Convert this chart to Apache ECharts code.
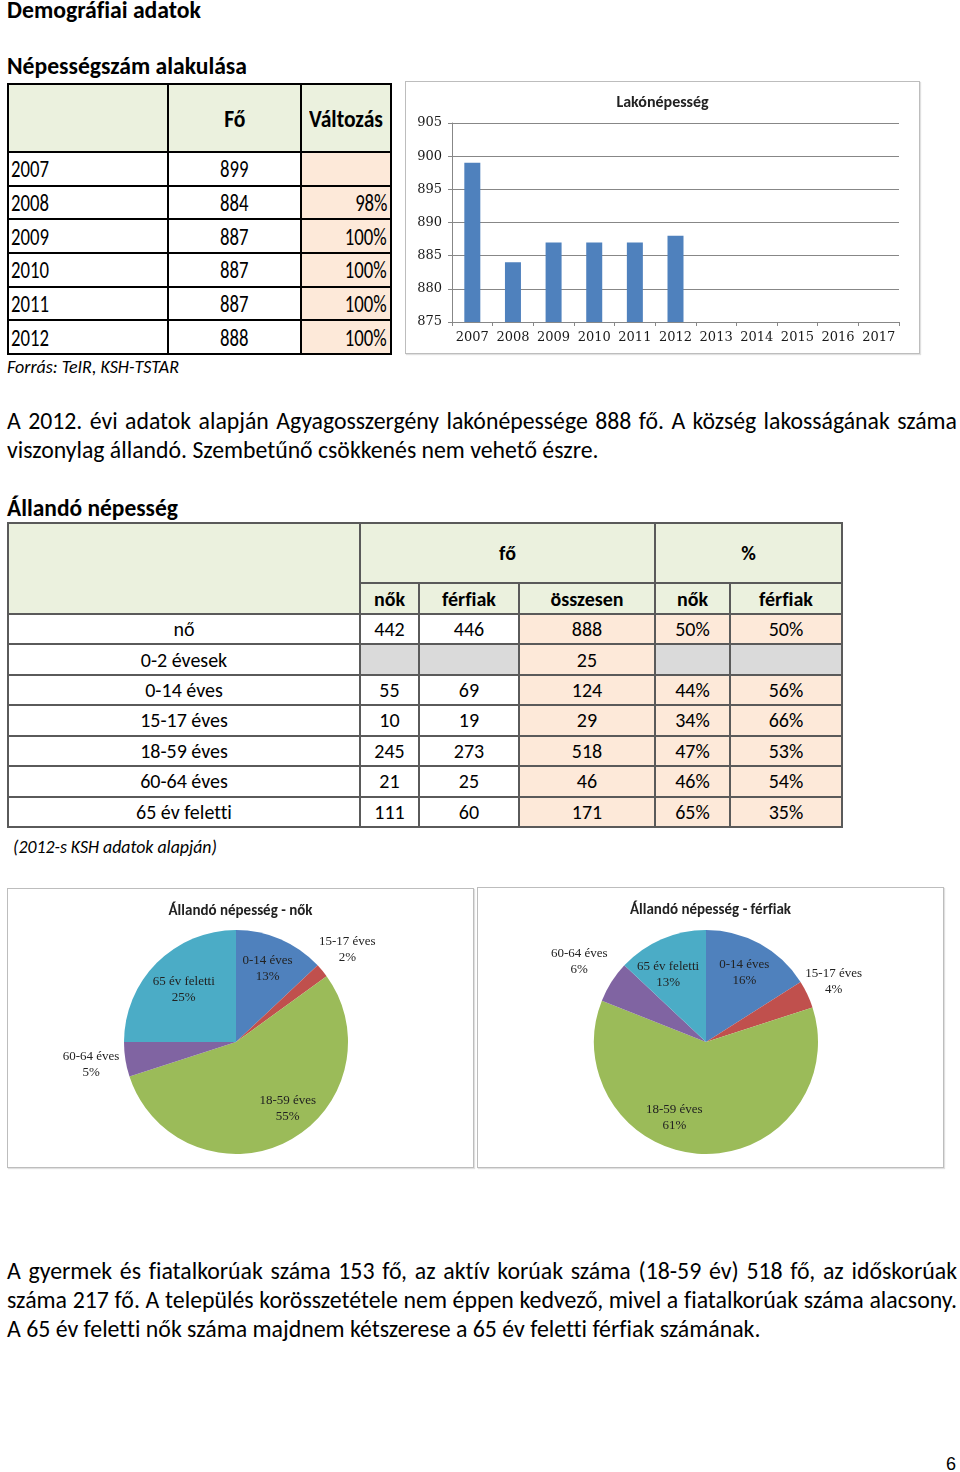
<!DOCTYPE html>
<html><head><meta charset="utf-8">
<script src="https://cdn.jsdelivr.net/npm/echarts@6/dist/echarts.min.js"></script>
<style>
html,body{margin:0;padding:0}
body{width:960px;height:1472px;position:relative;background:#fff;font-family:Carlito,Lato,"Open Sans",sans-serif;color:#000;overflow:hidden;font-variant-ligatures:none;font-feature-settings:"liga" 0,"clig" 0}
.a{position:absolute;white-space:nowrap}
.h{font-weight:bold;line-height:28px;font-size:20px}
.it{font-style:italic;line-height:20px;font-size:16px}
.ln{line-height:29px;font-size:20px}
.jl{width:950px;text-align:justify;text-align-last:justify;white-space:normal}
.grid{position:absolute;display:grid;box-sizing:border-box}
.grid>div{display:flex;align-items:center;overflow:hidden;white-space:nowrap}
#t1{left:7px;top:83px;width:385px;height:272px;background:#000;padding:2px;gap:2px;
 grid-template-columns:158px 131px 88px;grid-template-rows:66px repeat(6,1fr)}
#t1>div{font-size:24px}
#t1 span{display:inline-block;transform:scaleX(0.78)}
#t1 span.hd{font-weight:bold;transform:scaleX(0.9)}
#t2{left:7px;top:522px;width:836px;height:306px;background:#5a5a5a;padding:2px;gap:2px;
 grid-template-columns:350px 57px 98px 134px 73px 1fr;grid-template-rows:58px 29px repeat(7,1fr)}
#t2>div{font-size:20px;justify-content:center}
.g{background:#EBF1DE}.p{background:#FDE9D9}.w{background:#fff}.s{background:#DADADA}
.box{position:absolute;box-sizing:border-box;border:1px solid #bdbdbd;box-shadow:1px 1px 1px rgba(0,0,0,0.12);background:#fff}
</style></head><body>

<div id="h1" class="a h" style="left:7px;top:-4px">Demográfiai adatok</div>
<div id="h2" class="a h" style="left:7px;top:52px">Népességszám alakulása</div>
<div id="t1" class="grid"></div>
<div id="src1" class="a it" style="left:7px;top:357px">Forrás: TeIR, KSH-TSTAR</div>

<div id="barBox" class="box" style="left:405px;top:81px;width:515px;height:273px"></div>

<div id="p1a" class="a ln jl" style="left:7px;top:406px">A 2012. évi adatok alapján Agyagosszergény lakónépessége 888 fő. A község lakosságának száma</div>
<div id="p1b" class="a ln" style="left:7px;top:435px">viszonylag állandó. Szembetűnő csökkenés nem vehető észre.</div>

<div id="h3" class="a h" style="left:7px;top:494px">Állandó népesség</div>
<div id="t2" class="grid"></div>
<div id="src2" class="a it" style="left:13px;top:837px">(2012-s KSH adatok alapján)</div>

<div id="pieL" class="box" style="left:7px;top:888px;width:467px;height:280px"></div>
<div id="pieR" class="box" style="left:477px;top:887px;width:467px;height:281px"></div>

<div id="p2a" class="a ln jl" style="left:7px;top:1256px">A gyermek és fiatalkorúak száma 153 fő, az aktív korúak száma (18-59 év) 518 fő, az időskorúak</div>
<div id="p2b" class="a ln jl" style="left:7px;top:1285px">száma 217 fő. A település korösszetétele nem éppen kedvező, mivel a fiatalkorúak száma alacsony.</div>
<div id="p2c" class="a ln" style="left:7px;top:1314px">A 65 év feletti nők száma majdnem kétszerese a 65 év feletti férfiak számának.</div>

<div class="a" style="left:946px;top:1453px;font-family:'Liberation Sans',Arial,sans-serif;font-size:18px;line-height:22px">6</div>

<script>
// ---------- data ----------
const popYears = ['2007','2008','2009','2010','2011','2012'];
const popValues = [899, 884, 887, 887, 887, 888];
const popChange = ['', '98%', '100%', '100%', '100%', '100%'];

const barCategories = ['2007','2008','2009','2010','2011','2012','2013','2014','2015','2016','2017'];
const barValues = [899, 884, 887, 887, 887, 888, null, null, null, null, null];
const yMin = 875, yMax = 905, yStep = 5;

const ageGroups = ['nő','0-2 évesek','0-14 éves','15-17 éves','18-59 éves','60-64 éves','65 év feletti'];
const womenCount = [442, null, 55, 10, 245, 21, 111];
const menCount   = [446, null, 69, 19, 273, 25, 60];
const totalCount = [888, 25, 124, 29, 518, 46, 171];
const womenPct = ['50%', '', '44%', '34%', '47%', '46%', '65%'];
const menPct   = ['50%', '', '56%', '66%', '53%', '54%', '35%'];

const pieCategories = ['0-14 éves','15-17 éves','18-59 éves','60-64 éves','65 év feletti'];
const womenPie = [13, 2, 55, 5, 25];
const menPie   = [16, 4, 61, 6, 13];

// ---------- styles ----------
const pieColors = ['#4F81BD','#C0504D','#9BBB59','#8064A2','#4BACC6'];
const nokLabelPlace = {factor:[0.71,1.29,0.75,1.31,0.66], turn:[0,0,-11,0,0]};
const ferfiLabelPlace = {factor:[0.71,1.26,0.73,1.34,0.69], turn:[0,0,21,0,-6]};

// ---------- text fitting ----------
function fit(el, target){
  const w = el.getBoundingClientRect().width;
  const fs = parseFloat(getComputedStyle(el).fontSize);
  const nf = fs * target / w;
  el.style.fontSize = nf + 'px';
  return nf;
}
fit(document.getElementById('h1'), 194);
fit(document.getElementById('h2'), 240);
fit(document.getElementById('h3'), 171);
fit(document.getElementById('src1'), 172);
fit(document.getElementById('src2'), 204);
let f1 = fit(document.getElementById('p1b'), 592);
document.getElementById('p1a').style.fontSize = f1 + 'px';
let f2 = fit(document.getElementById('p2c'), 754);
document.getElementById('p2a').style.fontSize = f2 + 'px';
document.getElementById('p2b').style.fontSize = f2 + 'px';

// ---------- table 1 ----------
function cell(parent, cls, text, extra){
  const d = document.createElement('div');
  d.className = cls;
  if (extra) d.setAttribute('style', extra);
  d.innerHTML = text;
  parent.appendChild(d);
  return d;
}
const t1 = document.getElementById('t1');
cell(t1,'g','');
cell(t1,'g','<span class="hd">Fő</span>','justify-content:center');
cell(t1,'g','<span class="hd">Változás</span>','justify-content:center');
popYears.forEach((y,i)=>{
  cell(t1,'w','<span style="transform-origin:left center">'+y+'</span>','padding-left:2px');
  cell(t1,'w','<span>'+popValues[i]+'</span>','justify-content:center');
  cell(t1,'p','<span style="transform-origin:right center">'+popChange[i]+'</span>','justify-content:flex-end;padding-right:3px');
});

// ---------- table 2 ----------
const t2 = document.getElementById('t2');
cell(t2,'g','','grid-row:1 / span 2');
cell(t2,'g','<b>fő</b>','grid-column:2 / span 3');
cell(t2,'g','<b>%</b>','grid-column:5 / span 2');
['nők','férfiak','összesen','nők','férfiak'].forEach(h=>cell(t2,'g','<b>'+h+'</b>'));
ageGroups.forEach((g,i)=>{
  const blank = womenCount[i] === null;
  cell(t2,'w',g);
  cell(t2, blank?'s':'w', blank?'':String(womenCount[i]));
  cell(t2, blank?'s':'w', blank?'':String(menCount[i]));
  cell(t2,'p',String(totalCount[i]));
  cell(t2, blank?'s':'p', womenPct[i]);
  cell(t2, blank?'s':'p', menPct[i]);
});

// ---------- bar chart ----------
const bar = echarts.init(document.getElementById('barBox'));
bar.setOption({
  animation:false,
  title:{text:'Lakónépesség',left:'center',top:8,textStyle:{fontFamily:'Carlito, Lato, sans-serif',fontSize:16,fontWeight:'bold',color:'#222'}},
  grid:{left:46,right:20,top:41,bottom:31},
  xAxis:{type:'category',data:barCategories,boundaryGap:true,
    axisLine:{lineStyle:{color:'#878787',width:1}},
    axisTick:{show:true,length:4,interval:0,lineStyle:{color:'#878787'}},
    axisLabel:{interval:0,margin:9,fontFamily:'DejaVu Serif',fontSize:13,color:'#1a1a1a'}},
  yAxis:{type:'value',min:yMin,max:yMax,interval:yStep,
    axisLine:{show:true,lineStyle:{color:'#878787'}},
    axisTick:{show:true,length:4,lineStyle:{color:'#878787'}},
    splitLine:{lineStyle:{color:'#878787',width:1}},
    axisLabel:{margin:10,fontFamily:'DejaVu Serif',fontSize:13,color:'#1a1a1a'}},
  series:[{type:'bar',data:barValues,barWidth:16,itemStyle:{color:'#4F81BD'}}]
});

// ---------- pies ----------
function labelLayoutFor(cx, cy, r, place){
  return function(params){
    const lr = params.labelRect;
    const lx = lr.x + lr.width/2, ly = lr.y + lr.height/2;
    let vx = lx - cx, vy = ly - cy;
    const d = Math.hypot(vx, vy) || 1;
    vx /= d; vy /= d;
    const t = (place.turn[params.dataIndex]||0) * Math.PI/180;
    const rx = vx*Math.cos(t) - vy*Math.sin(t);
    const ry = vx*Math.sin(t) + vy*Math.cos(t);
    const f = place.factor[params.dataIndex] * r;
    return {x: cx + rx*f, y: cy + ry*f, align:'center', verticalAlign:'middle'};
  };
}
function pieOption(title, values, cx, cy, r, place){
  return {
    animation:false,
    color:pieColors,
    title:{text:title,left:'center',top:10,textStyle:{fontFamily:'Carlito, Lato, sans-serif',fontSize:15,fontWeight:'bold',color:'#222'}},
    series:[{
      type:'pie',center:[cx,cy],radius:r,startAngle:90,clockwise:true,
      avoidLabelOverlap:false,
      data:pieCategories.map((n,i)=>({name:n,value:values[i]})),
      itemStyle:{borderWidth:0},
      label:{show:true,position:'inside',formatter:'{b}\n{c}%',fontFamily:'Liberation Serif',fontSize:13,lineHeight:16,color:'#222'},
      labelLine:{show:false},
      labelLayout:labelLayoutFor(cx,cy,r,place),
      emphasis:{disabled:true}
    }]
  };
}
const pl = echarts.init(document.getElementById('pieL'));
pl.setOption(pieOption('Állandó népesség - nők', womenPie, 228, 153, 112, nokLabelPlace));
const pr = echarts.init(document.getElementById('pieR'));
pr.setOption(pieOption('Állandó népesség - férfiak', menPie, 228, 154, 112, ferfiLabelPlace));
</script>
</body></html>
